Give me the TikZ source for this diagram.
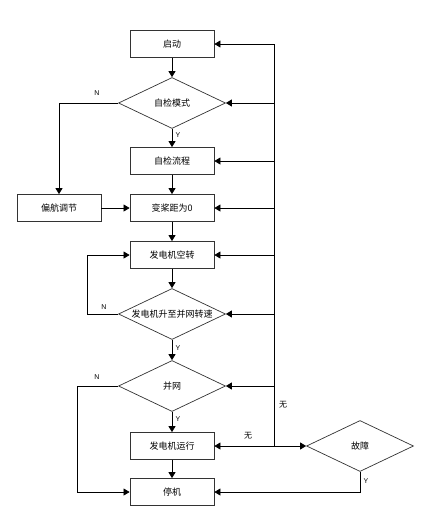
\documentclass[tikz,border=0pt]{standalone}
\usepackage{fontspec}
\setmainfont{Liberation Sans}
\newfontfamily\cjk{Noto Sans CJK SC}
\usetikzlibrary{shapes.geometric,arrows.meta}

\tikzset{
  box/.style={draw=black!80, line width=0.8pt, minimum width=84pt, minimum height=27pt, inner sep=0pt, font=\cjk\fontsize{9}{10}\selectfont},
  decision/.style={draw=black!80, line width=0.7pt, diamond, aspect=2.1, minimum width=107pt, minimum height=51pt, inner sep=0pt, font=\cjk\fontsize{9}{10}\selectfont},
  arr/.style={line width=0.7pt, -{Triangle[length=6pt,width=7pt]}},
  link/.style={line width=0.7pt},
  yn/.style={font=\fontsize{7}{8}\selectfont},
  note/.style={font=\cjk\fontsize{8}{9}\selectfont}
}

\begin{document}
\begin{tikzpicture}[x=1pt,y=-1pt]
\useasboundingbox (0,0) rectangle (430,522);

\node[box](start) at (172,44) {启动};
\node[decision](check) at (172,103) {自检模式};
\node[box](flow) at (172,161) {自检流程};
\node[box](yaw) at (59,208) {偏航调节};
\node[box](pitch) at (172,208) {变桨距为0};
\node[box](idle) at (172,255) {发电机空转};
\node[decision](speed) at (172,314) {发电机升至并网转速};
\node[decision](grid) at (172,386) {并网};
\node[box](run) at (172,446) {发电机运行};
\node[box](stop) at (172,492) {停机};
\node[decision](fault) at (360,446) {故障};

\coordinate(bus) at (274,446);

% main column
\draw[arr] (start) -- (check);
\draw[arr] (check) -- (flow);
\draw[arr] (flow) -- (pitch);
\draw[arr] (pitch) -- (idle);
\draw[arr] (idle) -- (speed);
\draw[arr] (speed) -- (grid);
\draw[arr] (grid) -- (run);
\draw[arr] (run) -- (stop);

% left branches
\draw[arr] (check.west) -| (yaw.north);
\draw[arr] (yaw) -- (pitch);
\draw[arr] (speed.west) -- (87,314) |- (idle.west);
\draw[arr] (grid.west) -- (77,386) |- (stop.west);

% fault loop
\draw[arr] (bus) -- (fault.west);
\draw[arr] (bus) -- (run.east);
\draw[arr] (bus) |- (start.east);
\foreach \n in {check,flow,pitch,idle,speed,grid}
	\draw[arr] (bus |- \n.east) -- (\n.east);
\draw[arr] (fault.south) |- (stop.east);

\node[yn](n1) at (97,93) {N};
\node[yn](n2) at (104,307) {N};
\node[yn](n3) at (97,377) {N};
\node[yn](y1) at (178,135) {Y};
\node[yn](y2) at (178,348) {Y};
\node[yn](y3) at (178,419) {Y};
\node[yn](y4) at (366,481) {Y};
\node[note](w1) at (283,405) {无};
\node[note](w2) at (248,436) {无};

\end{tikzpicture}
\end{document}
